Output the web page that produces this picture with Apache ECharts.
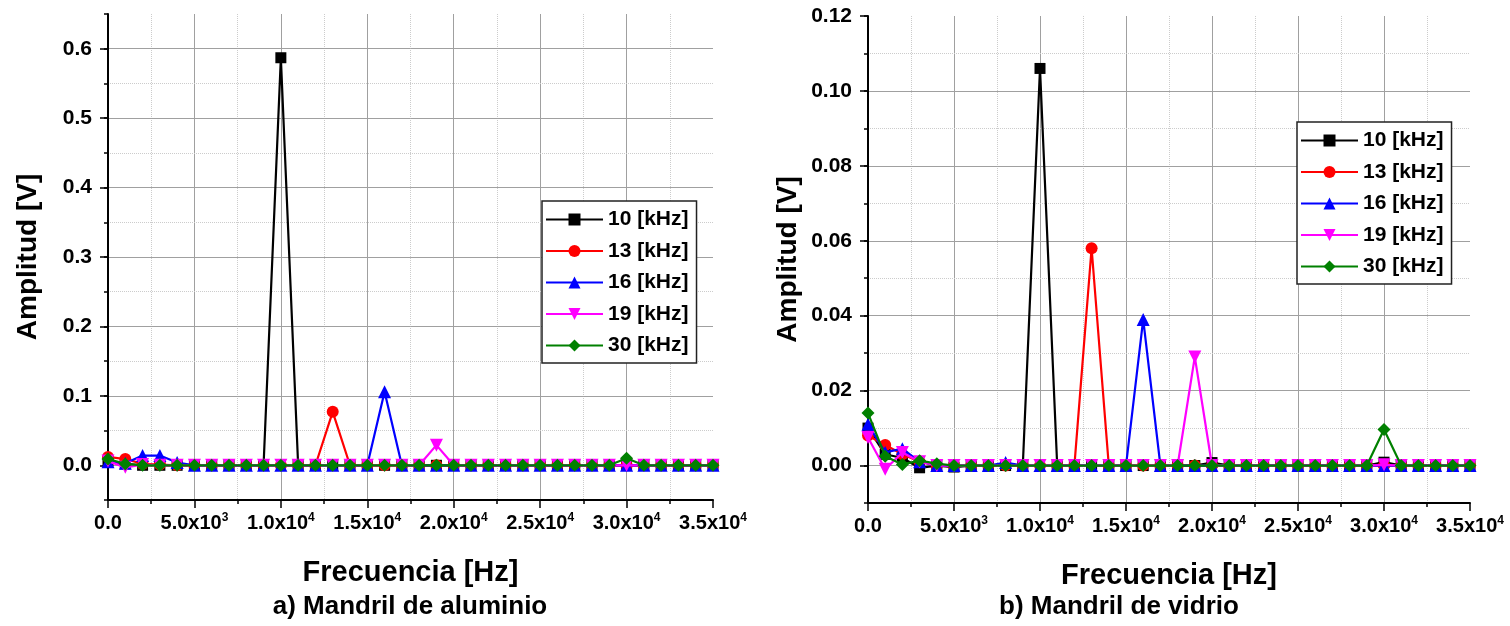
<!DOCTYPE html>
<html>
<head>
<meta charset="utf-8">
<script src="https://cdn.jsdelivr.net/npm/echarts@6/dist/echarts.min.js"></script>
<style>
html,body{margin:0;padding:0;background:#ffffff;}
#chart{width:1510px;height:626px;}
</style>
</head>
<body>
<div id="chart"></div>
<script>
// ---------- DATA ----------
const freq = [0,1000,2000,3000,4000,5000,6000,7000,8000,9000,10000,11000,12000,13000,14000,15000,16000,17000,18000,19000,20000,21000,22000,23000,24000,25000,26000,27000,28000,29000,30000,31000,32000,33000,34000,35000];
const seriesNames = ['10 [kHz]','13 [kHz]','16 [kHz]','19 [kHz]','30 [kHz]'];

// Panel a) Mandril de aluminio
const alu10 = [0.006,0.002,0,0,0,0,0,0,0,0,0.587,0,0,0,0,0,0,0,0,0,0,0,0,0,0,0,0,0,0,0,0,0,0,0,0,0];
const alu13 = [0.012,0.009,0.002,0.001,0,0,0,0,0,0,0,0,0,0.077,0,0,0,0,0,0,0,0,0,0,0,0,0,0,0,0,0,0,0,0,0,0];
const alu16 = [0.005,0.003,0.014,0.014,0.004,0,0,0,0,0,0,0,0,0,0,0,0.106,0,0,0,0,0,0,0,0,0,0,0,0,0,0,0,0,0,0,0];
const alu19 = [0.006,-0.003,0.001,0,0,0,0,0,0,0,0,0,0,0,0,0,0,0,0,0.029,0,0,0,0,0,0,0,0,0,0,0,0,0,0,0,0];
const alu30 = [0.009,0.002,0,0,0,0,0,0,0,0,0,0,0,0,0,0,0,0,0,0,0,0,0,0,0,0,0,0,0,0,0.010,0,0,0,0,0];

// Panel b) Mandril de vidrio
const vid10 = [0.010,0.003,0.002,-0.0006,0,-0.0004,0,0,0,0,0.106,0,0,0,0,0,0,0,0,0,0.0008,0,0,0,0,0,0,0,0,0,0.0009,0,0,0,0,0];
const vid13 = [0.008,0.0055,0.003,0.001,0,0,0,0,0,0,0,0,0,0.058,0,0,0,0,0,0,0,0,0,0,0,0,0,0,0,0,0,0,0,0,0,0];
const vid16 = [0.011,0.0035,0.0045,0.001,0,0,0,0,0.0008,0,0,0,0,0,0,0,0.039,0,0,0,0,0,0,0,0,0,0,0,0,0,0,0,0,0,0,0];
const vid19 = [0.0075,-0.001,0.0035,0.001,0,0,0,0,0,0,0,0,0,0,0,0,0,0,0,0.029,0,0,0,0,0,0,0,0,0,0,0.0002,0,0,0,0,0];
const vid30 = [0.014,0.0025,0.0003,0.0013,0.0005,0,0,0,0,0,0,0,0,0,0,0,0,0,0,0,0,0,0,0,0,0,0,0,0,0,0.0096,0,0,0,0,0];

const xTitle = 'Frecuencia [Hz]';
const yTitle = 'Amplitud [V]';
const panelTitles = ['a) Mandril de aluminio','b) Mandril de vidrio'];

// ---------- STYLE ----------
const FONT = '"Liberation Sans", Arial, sans-serif';
const colors = ['#000000','#ff0000','#0000ff','#ff00ff','#008000'];
const symbols = ['rect','circle','triangle','triangle','diamond'];
const rotates = [0,0,0,180,0];
const sizes = [11,12,13,13,13];

function sciLabel(v){
  if (v === 0) return '0.0';
  const e = Math.floor(Math.log10(v) + 1e-9);
  const m = v / Math.pow(10, e);
  return m.toFixed(1) + 'x10{sup|' + e + '}';
}

function makeX(gridIndex){
  return {
    gridIndex: gridIndex, type: 'value', min: 0, max: 35000, interval: 5000,
    name: xTitle, nameLocation: 'middle', nameGap: 58,
    nameTextStyle: {fontFamily: FONT, fontSize: 29, fontWeight: 'bold', color: '#000'},
    axisLine: {show: true, onZero: false, lineStyle: {color: '#000', width: 2}},
    axisTick: {show: true, length: 8, lineStyle: {color: '#000', width: 1.5}},
    minorTick: {show: true, splitNumber: 2, length: 4, lineStyle: {color: '#000', width: 1.5}},
    splitLine: {show: true, showMinLine: false, showMaxLine: false, lineStyle: {color: '#a0a0a0', width: 1}},
    minorSplitLine: {show: true, lineStyle: {color: '#cccccc', width: 1, type: 'dotted'}},
    axisLabel: {
      formatter: sciLabel, margin: 12, fontFamily: FONT, fontSize: 20, fontWeight: 'bold', color: '#000',
      lineHeight: 22,
      rich: {sup: {fontFamily: FONT, fontSize: 12, fontWeight: 'bold', color: '#000', verticalAlign: 'top', lineHeight: 22}}
    }
  };
}

function makeYMain(gridIndex, min, max, splitNumber, decimals, showMaxLabel){
  return {
    gridIndex: gridIndex, type: 'value', position: 'left', min: min, max: max, splitNumber: splitNumber, z: 2,
    name: yTitle, nameLocation: 'middle', nameGap: 66, nameRotate: 90,
    nameTextStyle: {fontFamily: FONT, fontSize: 28, fontWeight: 'bold', color: '#000'},
    axisLine: {show: true, onZero: false, lineStyle: {color: '#000', width: 2}},
    axisTick: {show: true, length: 8, lineStyle: {color: '#000', width: 1.5}},
    splitLine: {show: true, showMinLine: false, showMaxLine: false, lineStyle: {color: '#a0a0a0', width: 1}},
    axisLabel: {
      formatter: function(v){ return v.toFixed(decimals); },
      showMinLabel: false, showMaxLabel: showMaxLabel,
      margin: 16, fontFamily: FONT, fontSize: 21, fontWeight: 'bold', color: '#000'
    }
  };
}

function makeYMinor(gridIndex, min, max, interval){
  return {
    gridIndex: gridIndex, type: 'value', position: 'left', min: min, max: max, interval: interval, z: 1,
    axisLine: {show: false, onZero: false},
    axisTick: {show: true, length: 4, lineStyle: {color: '#000', width: 1.5}},
    axisLabel: {show: false},
    splitLine: {show: true, showMinLine: false, showMaxLine: false, lineStyle: {color: '#cccccc', width: 1, type: 'dotted'}}
  };
}

function makeSeries(valuesList, xIdx, yIdx){
  return valuesList.map(function(vals, i){
    return {
      type: 'line', name: seriesNames[i], xAxisIndex: xIdx, yAxisIndex: yIdx,
      data: freq.map(function(f, k){ return [f, vals[k]]; }),
      symbol: symbols[i], symbolSize: sizes[i], symbolRotate: rotates[i], showAllSymbol: true,
      lineStyle: {color: colors[i], width: 2.2},
      itemStyle: {color: colors[i]},
      z: 3 + i, animation: false
    };
  });
}

function makeLegend(left, top){
  return {
    orient: 'vertical', left: left, top: top,
    itemWidth: 57, itemHeight: 15, itemGap: 10.5,
    padding: [8, 8, 7, 3],
    borderColor: '#222', borderWidth: 1.5, backgroundColor: '#fff',
    selectedMode: false,
    data: seriesNames,
    textStyle: {fontFamily: FONT, fontSize: 21, fontWeight: 'bold', color: '#000'}
  };
}

const chart = echarts.init(document.getElementById('chart'), null, {renderer: 'canvas'});
chart.setOption({
  backgroundColor: '#ffffff',
  animation: false,
  textStyle: {fontFamily: FONT},
  grid: [
    {left: 108, right: 797, top: 14, bottom: 126},
    {left: 868, right: 40, top: 16, bottom: 123}
  ],
  xAxis: [makeX(0), makeX(1)],
  yAxis: [
    makeYMain(0, -0.05, 0.65, 7, 1, false),
    makeYMain(1, -0.01, 0.12, 6, 2, true),
    makeYMinor(0, -0.05, 0.65, 0.05),
    makeYMinor(1, -0.01, 0.12, 0.01)
  ],
  legend: [makeLegend(542, 201), makeLegend(1297, 122)],
  series: [].concat(
    makeSeries([alu10, alu13, alu16, alu19, alu30], 0, 0),
    makeSeries([vid10, vid13, vid16, vid19, vid30], 1, 1)
  ),
  graphic: [
    {type: 'text', x: 410, y: 607, style: {text: panelTitles[0], font: 'bold 26px ' + FONT, fill: '#000', align: 'center', verticalAlign: 'middle'}},
    {type: 'text', x: 1119, y: 607, style: {text: panelTitles[1], font: 'bold 26px ' + FONT, fill: '#000', align: 'center', verticalAlign: 'middle'}}
  ]
});
</script>
</body>
</html>
